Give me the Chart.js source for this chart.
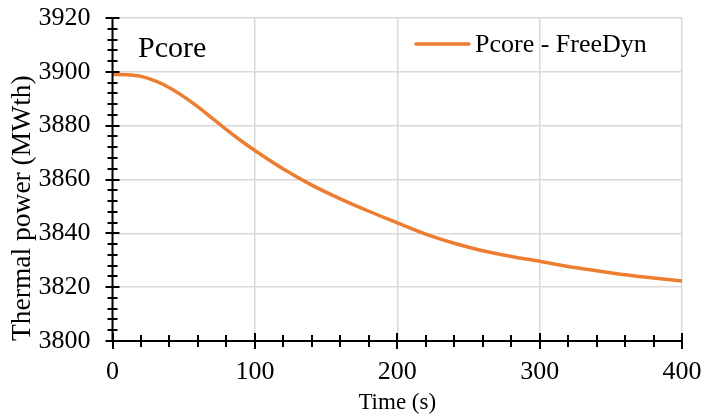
<!DOCTYPE html>
<html>
<head>
<meta charset="utf-8">
<script src="https://cdn.jsdelivr.net/npm/chart.js@4/dist/chart.umd.min.js"></script>
<style>
  html, body { margin: 0; padding: 0; background: #fff; }
  #wrap { width: 703px; height: 415px; }
</style>
</head>
<body>
<div id="wrap"><canvas id="c" width="703" height="415"></canvas></div>
<script>
// ---- data ----
const timeSeconds = [0, 10, 20, 30, 40, 50, 60, 70, 80, 90, 100, 120, 140, 160, 180, 200, 220, 240, 260, 280, 300, 320, 340, 360, 380, 400];
const pcoreFreeDyn = [3899.0, 3898.9, 3898.3, 3896.6, 3894.1, 3890.8, 3887.0, 3882.8, 3878.5, 3874.5, 3870.8, 3863.9, 3857.9, 3852.8, 3848.2, 3843.9, 3839.7, 3836.3, 3833.5, 3831.4, 3829.6, 3827.7, 3826.1, 3824.6, 3823.4, 3822.3];
const seriesName = 'Pcore - FreeDyn';
const chartLabel = 'Pcore';
const xTitle = 'Time (s)';
const yTitle = 'Thermal power (MWth)';
const xRange = [0, 400];
const yRange = [3800, 3920];
const xMajorStep = 100, xMinorStep = 20;
const yMajorStep = 20, yMinorStep = 4;

const ORANGE = '#ED7D31';
const FONT = "'Liberation Serif', 'Times New Roman', serif";

const axesPlugin = {
  id: 'axesAndTicks',
  afterDatasetsDraw(chart) {
    const ctx = chart.ctx;
    const xs = chart.scales.x, ys = chart.scales.y;
    const x0 = xs.getPixelForValue(xRange[0]);
    const y0 = ys.getPixelForValue(yRange[0]);
    ctx.save();
    ctx.strokeStyle = '#000';
    ctx.lineWidth = 2;
    ctx.beginPath();
    ctx.moveTo(x0, ys.getPixelForValue(yRange[1]));
    ctx.lineTo(x0, y0);
    ctx.lineTo(xs.getPixelForValue(xRange[1]), y0);
    ctx.stroke();
    for (let v = yRange[0]; v <= yRange[1] + 1e-9; v += yMinorStep) {
      const major = Math.abs((v - yRange[0]) % yMajorStep) < 1e-6;
      const p = Math.round(ys.getPixelForValue(v));
      const h = major ? 7 : 5;
      ctx.beginPath();
      ctx.moveTo(x0 - h, p);
      ctx.lineTo(x0 + h, p);
      ctx.stroke();
    }
    for (let v = xRange[0]; v <= xRange[1] + 1e-9; v += xMinorStep) {
      const major = Math.abs((v - xRange[0]) % xMajorStep) < 1e-6;
      const p = Math.round(xs.getPixelForValue(v));
      const h = major ? 8 : 6;
      ctx.beginPath();
      ctx.moveTo(p, y0 - h);
      ctx.lineTo(p, y0 + h);
      ctx.stroke();
    }
    ctx.restore();
  },
  afterDraw(chart) {
    const ctx = chart.ctx;
    const a = chart.chartArea;
    ctx.save();
    ctx.fillStyle = '#000';
    ctx.font = "30px " + FONT;
    ctx.textBaseline = 'alphabetic';
    ctx.textAlign = 'left';
    ctx.fillText(chartLabel, a.left + 25.5, a.top + 39);
    const ds = chart.data.datasets[0];
    const lx = a.left + 303.5, ly = a.top + 26;
    ctx.strokeStyle = ds.borderColor;
    ctx.lineWidth = 3.5;
    ctx.lineCap = 'round';
    ctx.beginPath();
    ctx.moveTo(lx, ly);
    ctx.lineTo(lx + 53, ly);
    ctx.stroke();
    ctx.font = "26px " + FONT;
    ctx.textBaseline = 'middle';
    ctx.fillText(ds.label, lx + 59, ly + 1);
    ctx.restore();
  }
};

new Chart(document.getElementById('c'), {
  type: 'line',
  data: {
    datasets: [{
      label: seriesName,
      data: timeSeconds.map((t, i) => ({ x: t, y: pcoreFreeDyn[i] })),
      borderColor: ORANGE,
      backgroundColor: ORANGE,
      borderWidth: 3.5,
      pointRadius: 0,
      cubicInterpolationMode: 'monotone',
      fill: false
    }]
  },
  options: {
    responsive: false,
    animation: false,
    events: [],
    layout: { padding: 0 },
    plugins: { legend: { display: false }, tooltip: { enabled: false } },
    scales: {
      x: {
        type: 'linear',
        min: xRange[0], max: xRange[1],
        ticks: { stepSize: xMajorStep, color: '#000', font: { family: FONT, size: 26 }, padding: 16, maxRotation: 0,
                 callback: v => String(v) },
        grid: { color: '#d9d9d9', lineWidth: 1.5, drawTicks: false },
        border: { display: false },
        title: { display: true, text: xTitle, color: '#000', font: { family: FONT, size: 23, lineHeight: 1 }, padding: { top: 0, bottom: 1 } },
        afterFit(scale) { scale.height = 74; scale.paddingLeft = 0; scale.paddingRight = 21; }
      },
      y: {
        type: 'linear',
        min: yRange[0], max: yRange[1],
        ticks: { stepSize: yMajorStep, color: '#000', font: { family: FONT, size: 26 }, padding: 22,
                 callback: v => String(v) },
        grid: { color: '#d9d9d9', lineWidth: 1.5, drawTicks: false },
        border: { display: false },
        title: { display: true, text: yTitle, align: 'start', color: '#000', font: { family: FONT, size: 27.5, lineHeight: 1 }, padding: { top: 9, bottom: 0 } },
        afterFit(scale) { scale.width = 112.5; scale.paddingTop = 18; scale.paddingBottom = 0; }
      }
    }
  },
  plugins: [axesPlugin]
});
</script>
</body>
</html>
